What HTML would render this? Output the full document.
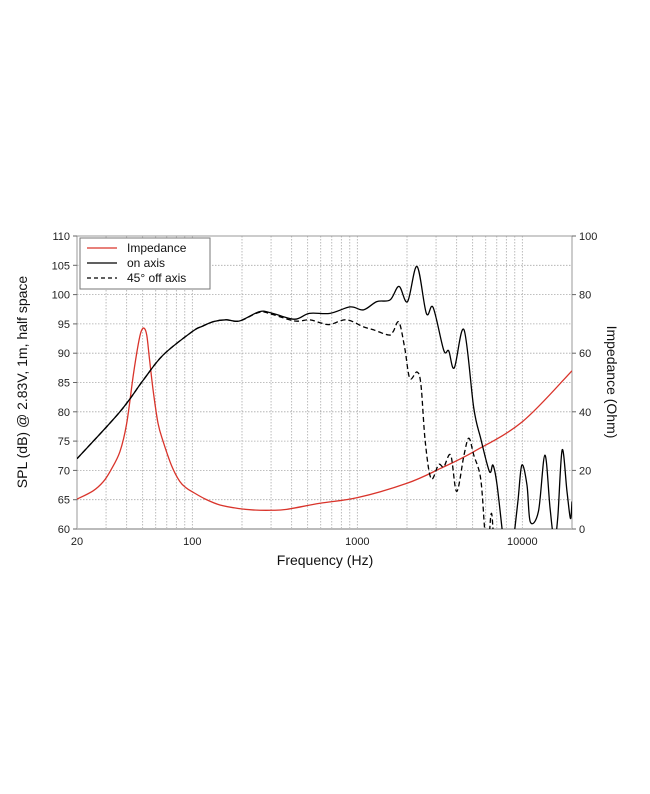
<!DOCTYPE html>
<html><head><meta charset="utf-8"><style>
html,body{margin:0;padding:0;background:#fff;width:650px;height:794px;overflow:hidden}
svg{display:block;font-family:"Liberation Sans",Arial,sans-serif}
</style></head><body>
<svg id="chart" width="650" height="794"></svg>
<script>
const onFreq=[20,36.4,50.4,66.6,100,115,135,160,193,256,307,417,512,683,906,1090,1312,1580,1788,2015,2300,2620,2880,3340,3580,3870,4430,5080,5590,6320,6640,7030,7680,8200,8740,9400,9930,10670,11180,12520,13700,14730,15620,16400,17440,18650,19570,20000];
const onDb=[72,80,85.4,89.7,93.7,94.6,95.4,95.7,95.5,97.1,96.8,95.8,96.8,96.8,97.9,97.4,98.8,99.1,101.4,98.8,104.8,96.8,97.8,90.5,90.4,87.5,94,80.6,75.5,69.8,70.9,67.5,58,52,57,64.7,70.9,67.5,61.2,63,72.6,63.5,58,62,73.5,66.4,61.8,64.7];
const offFreq=[20,36.4,50.4,66.6,100,115,135,160,193,256,307,417,512,594,683,858,1090,1250,1550,1650,1788,1940,2080,2300,2430,2580,2800,3110,3340,3680,4000,4430,4740,5080,5590,5910,6150,6450,6640,6900];
const offDb=[72,80,85.4,89.7,93.7,94.6,95.4,95.7,95.5,97.0,96.6,95.5,95.7,95.2,94.9,95.7,94.5,94.0,93.1,93.7,95.3,90.8,85.7,86.8,84.6,74.9,68.6,71.0,70.6,72.6,66.4,72.6,75.5,72.6,68.6,60,55,62.4,60,50];
const impFreq=[20,25,28.9,32,36.4,40,43.9,47,49,51.1,53,55,58,62,66.6,75,84,92,100,120,147,190,233,300,373,594,1000,2000,3200,5080,10000,20000];
const impOhm=[10.2,13,16.2,20,26.4,36,52.6,63,67.5,68.5,66,58,46.9,36,29.8,21.5,16.2,14,12.7,10.2,8.2,7.0,6.5,6.4,6.7,8.8,10.7,15.6,20.7,26.4,36.6,54];
const yTicks=[60,65,70,75,80,85,90,95,100,105,110];
const y2Ticks=[0,20,40,60,80,100];
const xTicks=[20,100,1000,10000];

const NS="http://www.w3.org/2000/svg";
const svg=document.getElementById('chart');
const L=77,R=572,T=236,B=529;
const xs=f=>L+(Math.log10(f)-Math.log10(20))/3*(R-L);
const ys=d=>B-(d-60)/50*(B-T);
const y2=o=>B-o/100*(B-T);
function el(t,a,p){const e=document.createElementNS(NS,t);for(const k in a)e.setAttribute(k,a[k]);(p||svg).appendChild(e);return e;}

const defs=el('defs',{});
const cp=el('clipPath',{id:'clip'},defs);el('rect',{x:L,y:T,width:R-L,height:B-T},cp);

const grid=el('g',{});


for(let dec=10;dec<=10000;dec*=10){for(let m=1;m<10;m++){const f=dec*m;if(f<=20||f>=20000)continue;
 const ln=el('line',{x1:xs(f),x2:xs(f),y1:T,y2:B,stroke:'#aaa','stroke-width':0.8,'stroke-dasharray':'1.5,1.5'},grid);
 
 }}
yTicks.forEach(d=>{if(d==60)return;const ln=el('line',{x1:L,x2:R,y1:ys(d),y2:ys(d),stroke:'#aaa','stroke-width':0.8,'stroke-dasharray':'1.5,1.5'},grid);
 
 });

el('rect',{x:L,y:T,width:R-L,height:B-T,fill:'none',stroke:'#999','stroke-width':1});
el('line',{x1:L,x2:R,y1:B,y2:B,stroke:'#bbb','stroke-width':2});

yTicks.forEach(d=>{el('line',{x1:L-4,x2:L,y1:ys(d),y2:ys(d),stroke:'#666'});
 const t=el('text',{x:L-7,y:ys(d)+4,'text-anchor':'end','font-size':11,fill:'#222'});t.textContent=d;
 
 });
y2Ticks.forEach(o=>{el('line',{x1:R,x2:R+4,y1:y2(o),y2:y2(o),stroke:'#666'});
 const t=el('text',{x:R+7,y:y2(o)+4,'font-size':11,fill:'#222'});t.textContent=o;
 
 });
xTicks.forEach(f=>{const t=el('text',{x:xs(f),y:545,'text-anchor':'middle','font-size':11,fill:'#222'});t.textContent=f;
 
 });

function path(fs,vs,sc){const p=fs.map((f,i)=>[xs(f),sc(vs[i])]);let d='M'+p[0][0]+','+p[0][1];
 for(let i=0;i<p.length-1;i++){const p0=p[Math.max(0,i-1)],p1=p[i],p2=p[i+1],p3=p[Math.min(p.length-1,i+2)];
 d+=' C'+(p1[0]+(p2[0]-p0[0])/6)+','+(p1[1]+(p2[1]-p0[1])/6)+' '+(p2[0]-(p3[0]-p1[0])/6)+','+(p2[1]-(p3[1]-p1[1])/6)+' '+p2[0]+','+p2[1];}return d;}
const g=el('g',{'clip-path':'url(#clip)'});
const imp=el('path',{d:path(impFreq,impOhm,y2),fill:'none',stroke:'#d9342b','stroke-width':1.3},g);


const off=el('path',{d:path(offFreq,offDb,ys),fill:'none',stroke:'#000','stroke-width':1.3,'stroke-dasharray':'5,3'},g);


const on=el('path',{d:path(onFreq,onDb,ys),fill:'none',stroke:'#000','stroke-width':1.3},g);



const lg=el('g',{});


el('rect',{x:80,y:238,width:130,height:51,fill:'#fff',stroke:'#777','stroke-width':1},lg);
[['Impedance','#d9342b',null],['on axis','#000',null],['45° off axis','#000','4,3']].forEach((e,i)=>{
 const yy=251+i*15;const a={x1:87,x2:117,y1:yy-3,y2:yy-3,stroke:e[1],'stroke-width':1.3};if(e[2])a['stroke-dasharray']=e[2];el('line',a,lg);
 const t=el('text',{x:127,y:yy+1,'font-size':12,fill:'#111'},lg);t.textContent=e[0];
 
 });

let t=el('text',{x:325,y:565,'text-anchor':'middle','font-size':14,fill:'#111'});t.textContent='Frequency (Hz)';


t=el('text',{x:0,y:0,'text-anchor':'middle','font-size':14,fill:'#111',transform:'translate(27,382) rotate(-90)'});t.textContent='SPL (dB) @ 2.83V, 1m, half space';


t=el('text',{x:0,y:0,'text-anchor':'middle','font-size':14,fill:'#111',transform:'translate(607,382) rotate(90)'});t.textContent='Impedance (Ohm)';


</script>
</body></html>
